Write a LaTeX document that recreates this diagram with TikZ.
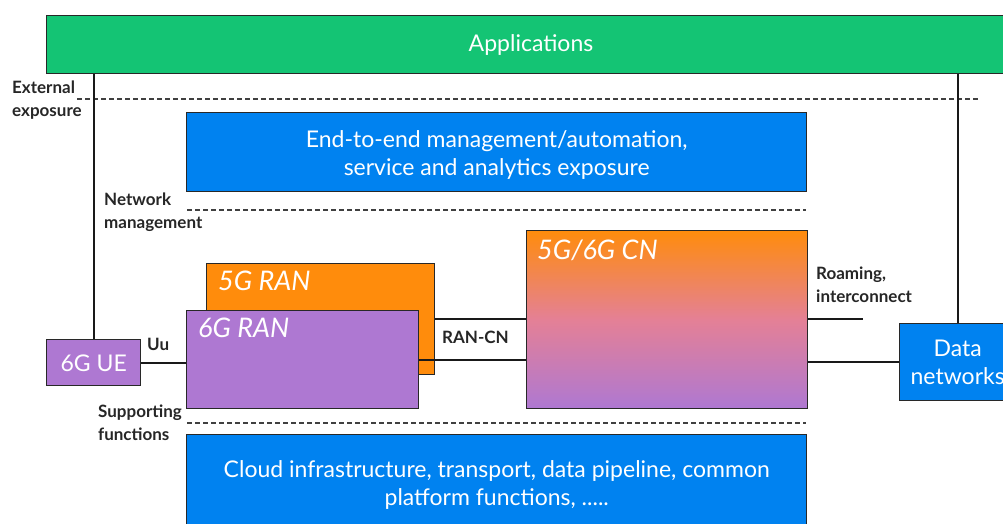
\documentclass[tikz,border=0pt]{standalone}
\usepackage{fontspec}
\setmainfont{Lato}
\usetikzlibrary{calc}
\definecolor{appgreen}{RGB}{20,196,116}
\definecolor{ebblue}{RGB}{0,130,240}
\definecolor{ranpurple}{RGB}{174,120,210}
\definecolor{ranorange}{RGB}{255,140,12}
\definecolor{cnmid}{RGB}{228,128,150}
\definecolor{edge}{RGB}{40,40,40}
\tikzset{
  box/.style={draw=edge, line width=1.4pt, anchor=north west, inner sep=0pt,
              text=white, align=center, font=\fontsize{23}{28}\selectfont},
  boxtext/.style={text=white, align=center, inner sep=0pt,
              font=\fontsize{23}{28}\selectfont},
  lbl/.style={font=\bfseries\fontsize{17}{23}\selectfont, text=black!85,
              align=left, inner sep=0pt, anchor=north west},
  boxtitle/.style={font=\itshape\fontsize{27}{30}\selectfont, text=white,
              inner sep=0pt, anchor=north west},
  link/.style={line width=1.8pt, draw=black!90},
  sep/.style={line width=1.2pt, draw=black!75, dash pattern=on 5pt off 3pt}
}
\begin{document}
\begin{tikzpicture}[x=1pt,y=-1pt]
\useasboundingbox (0,0) rectangle (1003,524);
\clip (0,0) rectangle (1003,524);

% layer boxes
\node[box, fill=appgreen, minimum width=970pt, minimum height=58pt] (app) at (46,15) {};
\node[boxtext] (apptext) at (531,45) {Applications};

\node[box, fill=ebblue, minimum width=620pt, minimum height=79pt] (mgmt) at (186,112) {};
\node[boxtext] (mgmttext) at ([yshift=-3pt]mgmt.center)
  {End-to-end management/automation,\\service and analytics exposure};

\node[box, fill=ebblue, minimum width=620pt, minimum height=98pt] (cloud) at (186,434) {};
\node[boxtext] (cloudtext) at ([yshift=-1pt]cloud.center)
  {Cloud infrastructure, transport, data pipeline, common\\platform functions, .....};

% layer separators
\draw[sep] (77,99) -- (978,99);
\draw[sep] (187,210) -- (806,210);
\draw[sep] (187,423) -- (806,423);

\node[lbl] (extlbl) at (12,81) {External\\exposure};
\node[lbl] (nmlbl) at (104,193) {Network\\management};
\node[lbl] (suplbl) at (98,405) {Supporting\\functions};

% network functions
\node[box, fill=ranorange, minimum width=228pt, minimum height=111pt] (ran5) at (206,263) {};
\node[boxtitle] at (218,271) {5G RAN};
\node[box, fill=ranpurple, minimum width=232pt, minimum height=98pt] (ran6) at (186,310) {};
\node[boxtitle] at (198,318) {6G RAN};

\node[box, top color=ranorange, bottom color=ranpurple, middle color=cnmid,
      minimum width=281pt, minimum height=178pt] (cn) at (526,230) {};
\node[boxtitle] at (537,240) {5G/6G CN};

\node[box, fill=ranpurple, minimum width=94pt, minimum height=46pt] (ue) at (46,339) {};
\node[boxtext] (uetext) at ([yshift=-1pt]ue.center) {6G UE};
\node[box, fill=ebblue, minimum width=116pt, minimum height=77pt] (dn) at (899,323) {};
\node[boxtext] (dntext) at (dn.center) {Data\\networks};

\coordinate (roamend) at (863,319);

% connectors
\draw[link] (app.south -| ue.north) -- (ue.north);
\draw[link] (app.south -| dn.north) -- (dn.north);
\draw[link] (ue.east) -- (ue.east -| ran6.west);
\draw[link] (ran5.east) -- (ran5.east -| cn.west);
\draw[link] (ran6.east) -- (ran6.east -| cn.west);
\draw[link] (cn.east |- roamend) -- (roamend);
\draw[link] (dn.west -| cn.east) -- (dn.west);

% interface labels
\node[lbl] (uulbl) at (147,338) {Uu};
\node[lbl] (rancnlbl) at (442,331) {RAN-CN};
\node[lbl] (roamlbl) at (816,267) {Roaming,\\interconnect};
\end{tikzpicture}
\end{document}
